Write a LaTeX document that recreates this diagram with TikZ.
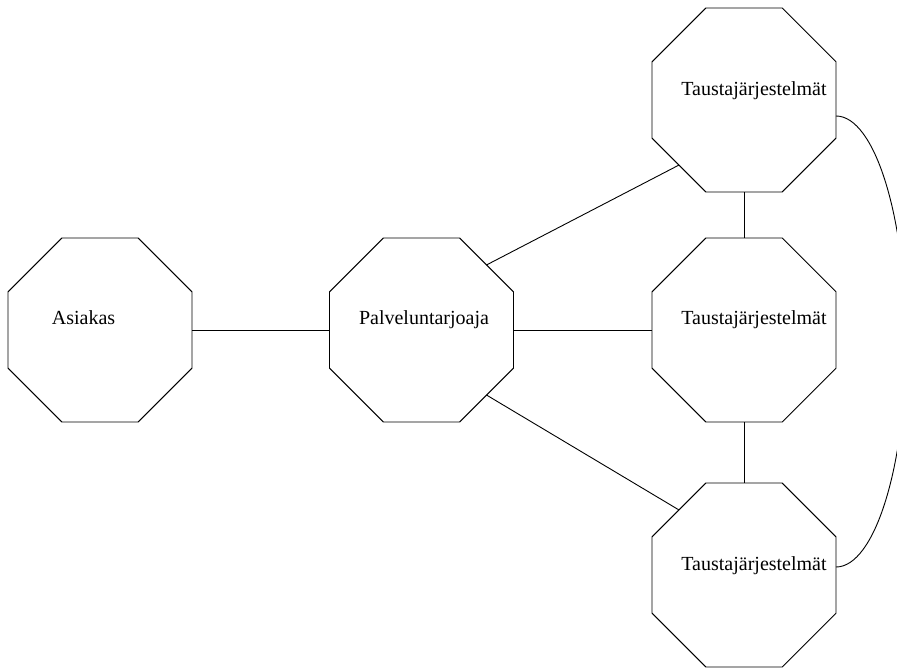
\documentclass[tikz,border=0pt]{standalone}
\usepackage{fontspec}
\setmainfont{Liberation Serif}
\usetikzlibrary{shapes.geometric}
\begin{document}
\begin{tikzpicture}[x=1pt,y=-1pt,
  octa/.style={draw, regular polygon, regular polygon sides=8, minimum size=199.2pt, inner sep=0pt, outer sep=0pt, line width=0.9pt},
  lbl/.style={anchor=base, inner sep=0pt, font=\fontsize{20}{24}\selectfont},
  conn/.style={line width=0.9pt}]
\useasboundingbox (0,0) rectangle (897,668);
\node[octa] (a) at (100,330) {};
\node[octa] (p) at (421.5,330) {};
\node[octa] (t1) at (744,100) {};
\node[octa] (t2) at (744,330) {};
\node[octa] (t3) at (744,575) {};
\node[lbl] (la) at (83.5,325) {Asiakas};
\node[lbl] (lp) at (424,325) {Palveluntarjoaja};
\node[lbl] (lt1) at (754,96) {Taustajärjestelmät};
\node[lbl] (lt2) at (754,325) {Taustajärjestelmät};
\node[lbl] (lt3) at (754,570) {Taustajärjestelmät};
\draw[conn] (a.east) -- (p.west);
\draw[conn] (p.east) -- (t2.west);
\draw[conn] (p.45) -- (t1.225);
\draw[conn] (p.-45) -- (t3.135);
\draw[conn] (t1.south) -- (t2.north);
\draw[conn] (t2.south) -- (t3.north);
\coordinate (c1) at (836,116);
\draw[conn] (c1) arc[start angle=-90, end angle=90, x radius=70, y radius=225.5];
\end{tikzpicture}
\end{document}
